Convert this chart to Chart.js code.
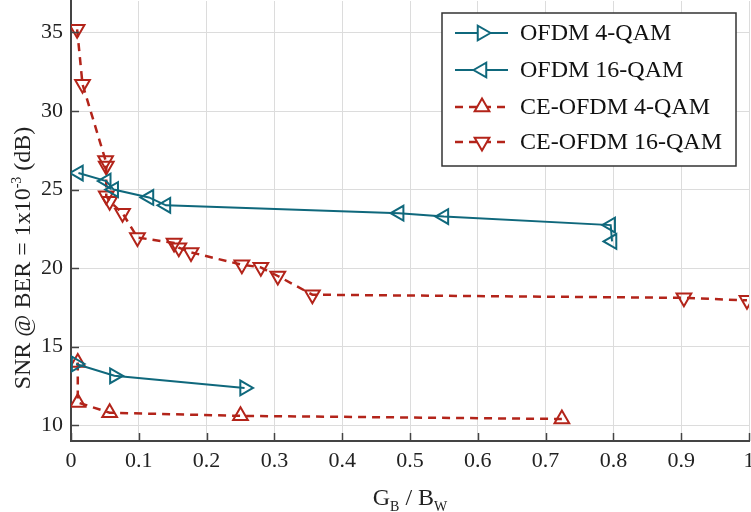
<!DOCTYPE html>
<html>
<head>
<meta charset="utf-8">
<script src="https://cdn.jsdelivr.net/npm/chart.js@4"></script>
<style>
  html, body { margin: 0; padding: 0; background: #fff; }
</style>
</head>
<body>
<canvas id="myChart" width="751" height="512"></canvas>
<script>
// values (x = G_B / B_W, y = SNR in dB)
const ofdm4X = [0.0075, 0.064, 0.256];
const ofdm4Y = [13.9, 13.15, 12.38];

const ofdm16X = [0.011, 0.052, 0.063, 0.115, 0.14, 0.484, 0.55, 0.796, 0.798];
const ofdm16Y = [26.05, 25.54, 25.0, 24.5, 24.0, 23.5, 23.28, 22.74, 21.7];

const ce4X = [0.01, 0.01, 0.057, 0.25, 0.724];
const ce4Y = [14.0, 11.45, 10.8, 10.6, 10.4];

const ce16X = [0.009, 0.017, 0.051, 0.052, 0.052, 0.057, 0.076, 0.098, 0.152, 0.159, 0.177, 0.252, 0.28, 0.305, 0.356, 0.904, 0.997];
const ce16Y = [35.2, 31.7, 26.85, 26.5, 24.6, 24.25, 23.5, 21.95, 21.6, 21.3, 21.0, 20.22, 20.05, 19.5, 18.31, 18.11, 17.95];

const seriesNames = ['OFDM 4-QAM', 'OFDM 16-QAM', 'CE-OFDM 4-QAM', 'CE-OFDM 16-QAM'];
const yTickValues = [10, 15, 20, 25, 30, 35];

const teal = '#0f687c';
const red = '#b3241a';
const serif = 'Liberation Serif';

function pts(xs, ys) {
    return xs.map((x, i) => ({ x: x, y: ys[i] }));
}

function series(label, data, color, rotation, dashed) {
    return {
        label: label,
        data: data,
        showLine: true,
        borderColor: color,
        borderWidth: dashed ? 2.5 : 2,
        borderDash: dashed ? [8, 6] : [],
        pointStyle: 'triangle',
        pointRotation: rotation,
        pointRadius: 8.5,
        pointHoverRadius: 8.5,
        pointBorderWidth: 2,
        pointBorderColor: color,
        pointBackgroundColor: 'rgba(255,255,255,0)',
        fill: false,
        tension: 0
    };
}

// inward tick marks on the left and bottom axes
const innerTicks = {
    id: 'innerTicks',
    afterDatasetsDraw(chart) {
        const ctx = chart.ctx;
        const xs = chart.scales.x, ys = chart.scales.y;
        const area = chart.chartArea;
        ctx.save();
        ctx.strokeStyle = '#444';
        ctx.lineWidth = 1.5;
        xs.ticks.forEach(t => {
            const px = Math.round(xs.getPixelForValue(t.value)) + 0.5;
            ctx.beginPath();
            ctx.moveTo(px, area.bottom);
            ctx.lineTo(px, area.bottom - 8);
            ctx.stroke();
        });
        ys.ticks.forEach(t => {
            const py = Math.round(ys.getPixelForValue(t.value)) + 0.5;
            ctx.beginPath();
            ctx.moveTo(area.left, py);
            ctx.lineTo(area.left + 8, py);
            ctx.stroke();
        });
        ctx.restore();
    }
};

// axis titles with sub/superscripts
const axisTitles = {
    id: 'axisTitles',
    afterDraw(chart) {
        const ctx = chart.ctx;
        const area = chart.chartArea;
        ctx.save();
        ctx.fillStyle = '#222';
        ctx.textBaseline = 'alphabetic';

        // x title: G_B / B_W
        const big = '24px "' + serif + '"';
        const small = '14px "' + serif + '"';
        const parts = [['G', big, 0], ['B', small, 6], [' / B', big, 0], ['W', small, 6]];
        let total = 0;
        parts.forEach(p => { ctx.font = p[1]; total += ctx.measureText(p[0]).width; });
        let x = 410 - total / 2;
        const baseY = 505;
        parts.forEach(p => {
            ctx.font = p[1];
            ctx.textAlign = 'left';
            ctx.fillText(p[0], x, baseY + p[2]);
            x += ctx.measureText(p[0]).width;
        });

        // y title: SNR @ BER = 1x10^-3 (dB)
        const yparts = [['SNR @ BER = 1x10', big, 0], ['-3', small, -9], [' (dB)', big, 0]];
        total = 0;
        yparts.forEach(p => { ctx.font = p[1]; total += ctx.measureText(p[0]).width; });
        ctx.translate(30, 258);
        ctx.rotate(-Math.PI / 2);
        x = -total / 2;
        yparts.forEach(p => {
            ctx.font = p[1];
            ctx.textAlign = 'left';
            ctx.fillText(p[0], x, p[2]);
            x += ctx.measureText(p[0]).width;
        });
        ctx.restore();
    }
};

// boxed legend inside the plot, top right
const boxLegend = {
    id: 'boxLegend',
    afterDraw(chart) {
        const ctx = chart.ctx;
        const area = chart.chartArea;
        const w = 294, h = 153;
        const left = area.right - 13 - w;
        const top = area.top + 12;
        ctx.save();
        ctx.fillStyle = '#fff';
        ctx.fillRect(left, top, w, h);
        ctx.strokeStyle = '#333';
        ctx.lineWidth = 1.5;
        ctx.strokeRect(left, top, w, h);

        const rows = [20, 57, 94, 129];
        chart.data.datasets.forEach((ds, i) => {
            const cy = top + rows[i];
            ctx.save();
            ctx.strokeStyle = ds.borderColor;
            ctx.lineWidth = ds.borderWidth;
            ctx.setLineDash(ds.borderDash);
            ctx.beginPath();
            ctx.moveTo(left + 13, cy);
            ctx.lineTo(left + 66, cy);
            ctx.stroke();
            ctx.restore();
            ctx.save();
            ctx.strokeStyle = ds.borderColor;
            ctx.fillStyle = '#fff';
            ctx.lineWidth = ds.pointBorderWidth;
            Chart.helpers.drawPoint(ctx, {
                pointStyle: 'triangle',
                rotation: ds.pointRotation,
                radius: ds.pointRadius,
                borderWidth: ds.pointBorderWidth
            }, left + 40, cy);
            ctx.restore();

            ctx.fillStyle = '#111';
            ctx.font = '24px "' + serif + '"';
            ctx.textAlign = 'left';
            ctx.textBaseline = 'middle';
            ctx.fillText(ds.label, left + 78, cy + 1);
        });
        ctx.restore();
    }
};

const ctx = document.getElementById('myChart');

const chart = new Chart(ctx, {
    type: 'scatter',
    data: {
        datasets: [
            series(seriesNames[0], pts(ofdm4X, ofdm4Y), teal, 90, false),
            series(seriesNames[1], pts(ofdm16X, ofdm16Y), teal, 270, false),
            series(seriesNames[2], pts(ce4X, ce4Y), red, 0, true),
            series(seriesNames[3], pts(ce16X, ce16Y), red, 180, true)
        ]
    },
    options: {
        responsive: false,
        devicePixelRatio: 1,
        animation: false,
        layout: { autoPadding: false, padding: { top: 1, right: 2, left: 0, bottom: 0 } },
        plugins: {
            legend: { display: false },
            tooltip: { enabled: false }
        },
        scales: {
            x: {
                type: 'linear',
                min: 0,
                max: 1,
                ticks: {
                    stepSize: 0.1,
                    padding: 7,
                    color: '#222',
                    font: { family: serif, size: 22 },
                    maxRotation: 0,
                    autoSkip: false,
                    callback: v => String(Number(v.toFixed(1)))
                },
                grid: { color: '#dcdcdc', lineWidth: 1, drawTicks: false },
                border: { color: '#444', width: 2 },
                afterFit: s => {
                    s.height = 71;
                    s.paddingLeft = 0;
                    s.paddingRight = 0;
                }
            },
            y: {
                type: 'linear',
                min: 9,
                max: 37,
                afterBuildTicks: s => {
                    s.ticks = yTickValues.map(v => ({ value: v }));
                },
                ticks: {
                    padding: 8,
                    color: '#222',
                    font: { family: serif, size: 22 }
                },
                grid: { color: '#dcdcdc', lineWidth: 1, drawTicks: false },
                border: { color: '#444', width: 2 },
                afterFit: s => {
                    s.width = 71;
                    s.paddingTop = 0;
                    s.paddingBottom = 0;
                }
            }
        }
    },
    plugins: [innerTicks, axisTitles, boxLegend]
});
</script>
</body>
</html>
